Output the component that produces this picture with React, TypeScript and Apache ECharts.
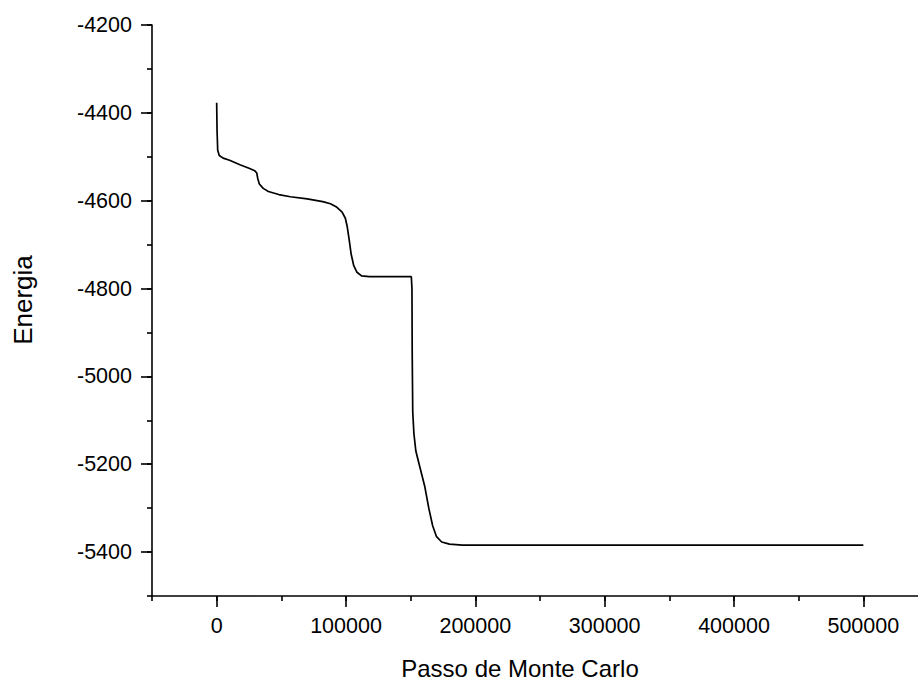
import React, { useEffect, useRef } from "react";
import * as echarts from "echarts";

// Monte Carlo step (x) and energy (y)
const steps: number[] = [
  0, 300, 800, 2000, 5000, 10000, 18000, 25000, 29500, 31000, 31800, 33000,
  36000, 40000, 48000, 57000, 70000, 82000, 88000, 93000, 97000, 99500, 101000,
  102500, 104000, 106000, 108500, 112000, 118000, 150500, 151000, 151200,
  151600, 152500, 154000, 157000, 161000, 164000, 167000, 170000, 174000,
  180000, 190000, 300000, 500000,
];
const energy: number[] = [
  -4377, -4440, -4485, -4497, -4503, -4508, -4518, -4526, -4532, -4537, -4550,
  -4562, -4572, -4579, -4586, -4591, -4596, -4602, -4607, -4615, -4626, -4640,
  -4660, -4690, -4722, -4748, -4763, -4771, -4773, -4773, -4800, -4950, -5080,
  -5130, -5170, -5205, -5252, -5300, -5340, -5365, -5377, -5382, -5384, -5384,
  -5384,
];

const xMajorTicks: number[] = [0, 100000, 200000, 300000, 400000, 500000];
const yMajorTicks: number[] = [-5400, -5200, -5000, -4800, -4600, -4400, -4200];

const xTitle = "Passo de Monte Carlo";
const yTitle = "Energia";

const FONT = 'Arial, "Liberation Sans", sans-serif';

export default function App() {
  const ref = useRef<HTMLDivElement>(null);

  useEffect(() => {
    if (!ref.current) return;
    const chart = echarts.init(ref.current, null, { renderer: "svg" });
    const data = steps.map((s, i) => [s, energy[i]]);
    const axisLine = { show: true, onZero: false, lineStyle: { color: "#000", width: 1.6 } };
    chart.setOption({
      animation: false,
      backgroundColor: "#fff",
      grid: { left: 152, top: 25, width: 776, height: 571, containLabel: false },
      xAxis: [
        {
          type: "value",
          position: "bottom",
          min: -50000,
          max: 550000,
          interval: 50000,
          axisLine,
          splitLine: { show: false },
          axisTick: {
            show: true,
            length: 11,
            customValues: xMajorTicks,
            lineStyle: { color: "#000", width: 1.6 },
          },
          axisLabel: {
            customValues: xMajorTicks,
            formatter: (v: number) => (v >= 0 && v % 100000 === 0 ? String(v) : ""),
            fontSize: 21.5,
            color: "#000",
            fontFamily: FONT,
            margin: 19,
          },
        },
        {
          type: "value",
          position: "bottom",
          min: -50000,
          max: 550000,
          interval: 50000,
          axisLine: { show: false, onZero: false },
          splitLine: { show: false },
          axisTick: { show: true, length: 5, lineStyle: { color: "#000", width: 1.6 } },
          axisLabel: { show: false },
        },
      ],
      yAxis: [
        {
          type: "value",
          position: "left",
          min: -5500,
          max: -4200,
          interval: 100,
          axisLine,
          splitLine: { show: false },
          axisTick: {
            show: true,
            length: 11,
            customValues: yMajorTicks,
            lineStyle: { color: "#000", width: 1.6 },
          },
          axisLabel: {
            customValues: yMajorTicks,
            formatter: (v: number) => (Math.abs(v) % 200 === 0 ? String(v) : ""),
            fontSize: 21.5,
            color: "#000",
            fontFamily: FONT,
            margin: 20,
          },
        },
        {
          type: "value",
          position: "left",
          min: -5500,
          max: -4200,
          interval: 100,
          axisLine: { show: false, onZero: false },
          splitLine: { show: false },
          axisTick: { show: true, length: 5, lineStyle: { color: "#000", width: 1.6 } },
          axisLabel: { show: false },
        },
      ],
      graphic: [
        {
          type: "text",
          x: 520,
          y: 668,
          style: {
            text: xTitle,
            fontSize: 24,
            fontFamily: FONT,
            fill: "#000",
            align: "center",
            verticalAlign: "middle",
          },
        },
        {
          type: "text",
          x: 23,
          y: 300,
          rotation: Math.PI / 2,
          style: {
            text: yTitle,
            fontSize: 26,
            fontFamily: FONT,
            fill: "#000",
            align: "center",
            verticalAlign: "middle",
          },
        },
      ],
      series: [
        {
          type: "line",
          xAxisIndex: 0,
          yAxisIndex: 0,
          data,
          showSymbol: false,
          symbol: "none",
          smooth: false,
          lineStyle: { color: "#000", width: 1.7 },
        },
      ],
    });
    return () => chart.dispose();
  }, []);

  return (
    <div
      style={{
        position: "fixed",
        left: 0,
        top: 0,
        width: 918,
        height: 684,
        overflow: "hidden",
        background: "#fff",
      }}
    >
      <div ref={ref} style={{ width: 930, height: 684 }} />
    </div>
  );
}
